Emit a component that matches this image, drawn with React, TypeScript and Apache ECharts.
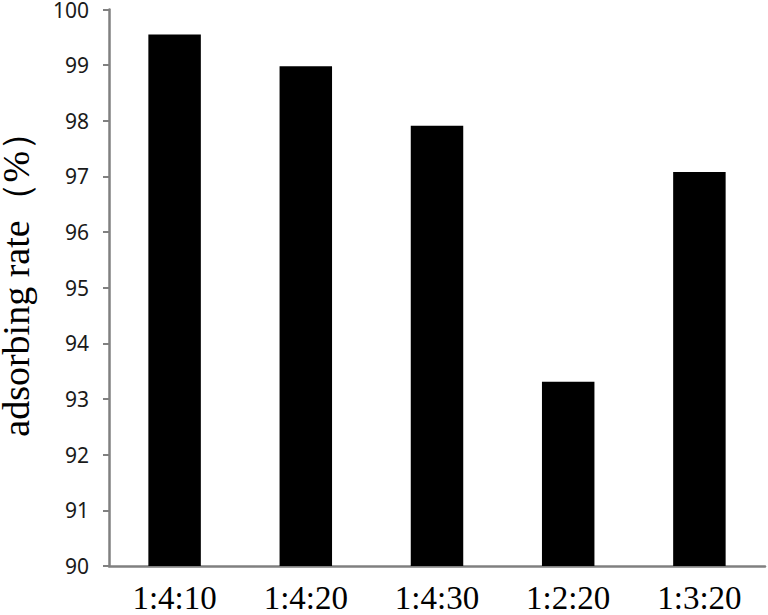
import React, { useEffect, useRef } from "react";
import * as echarts from "echarts";

const categories = ["1:4:10", "1:4:20", "1:4:30", "1:2:20", "1:3:20"];
const adsorbingRate = [99.55, 98.98, 97.91, 93.31, 97.08];
const yMin = 90;
const yMax = 100;
const yStep = 1;
const yTitle = "adsorbing rate（%）";

export default function App() {
  const ref = useRef<HTMLDivElement>(null);
  useEffect(() => {
    if (!ref.current) return;
    const chart = echarts.init(ref.current, null, { renderer: "svg" });
    chart.setOption({
      animation: false,
      backgroundColor: "#ffffff",
      grid: {
        left: 109,
        right: 3,
        top: 9.5,
        bottom: 49,
        containLabel: false,
        outerBoundsMode: "none",
      },
      xAxis: {
        type: "category",
        data: categories,
        axisLine: { lineStyle: { color: "#808080", width: 2.5 } },
        axisTick: { show: false },
        axisLabel: {
          color: "#000",
          fontFamily: "Liberation Serif",
          fontSize: 33,
          margin: 15,
        },
      },
      yAxis: {
        type: "value",
        min: yMin,
        max: yMax,
        interval: yStep,
        name: yTitle,
        nameLocation: "middle",
        nameGap: 76,
        nameTextStyle: {
          color: "#000",
          fontFamily: "Liberation Serif",
          fontSize: 38,
          lineHeight: 34,
          padding: [0, 0, 0, 26],
        },
        splitLine: { show: false },
        axisLine: { show: true, lineStyle: { color: "#808080", width: 2.5 } },
        axisTick: { show: true, length: 6, lineStyle: { color: "#808080", width: 2 } },
        axisLabel: {
          color: "#1a1a1a",
          fontFamily: "Noto Sans",
          fontSize: 21,
          lineHeight: 20,
          margin: 20,
        },
      },
      series: [
        {
          type: "bar",
          data: adsorbingRate,
          barWidth: "40%",
          itemStyle: { color: "#000000" },
        },
      ],
    });
    return () => chart.dispose();
  }, []);
  return (
    <div
      ref={ref}
      style={{ position: "fixed", left: 0, top: 0, width: 768, height: 615 }}
    />
  );
}
